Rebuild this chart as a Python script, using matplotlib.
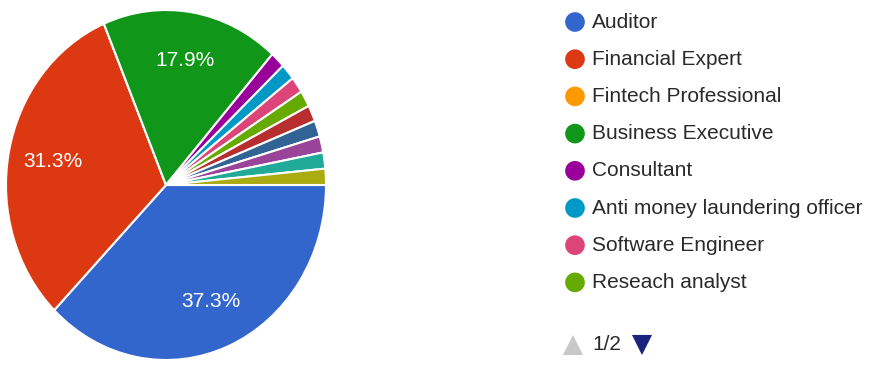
import matplotlib
matplotlib.use("Agg")
import matplotlib.pyplot as plt

plt.rcParams['font.family'] = ['Liberation Sans', 'DejaVu Sans']

# Survey responses by profession (page 1 of the legend lists the first eight)
categories = [
    "Auditor",
    "Financial Expert",
    "Fintech Professional",
    "Business Executive",
    "Consultant",
    "Anti money laundering officer",
    "Software Engineer",
    "Reseach analyst",
]
counts = [25, 21, 0, 12, 1, 1, 1, 1, 1, 1, 1, 1, 1]
colors = [
    "#3366cc", "#dc3912", "#ff9900", "#109618", "#990099", "#0099c6",
    "#dd4477", "#66aa00", "#b82e2e", "#316395", "#994499", "#22aa99",
    "#aaaa11",
]
page_label = "1/2"

W, H = 871, 365
fig = plt.figure(figsize=(W / 100, H / 100), dpi=100)

# Pie occupies a slightly tall ellipse on the left
cx, cy, rx, ry = 166, 185, 160, 175
ax = fig.add_axes([(cx - rx) / W, (H - cy - ry) / H, 2 * rx / W, 2 * ry / H])


def pct_label(p):
    return f"{p:.1f}%" if p >= 5 else ""


wedges, texts, autotexts = ax.pie(
    counts,
    colors=colors,
    startangle=0,
    counterclock=False,
    autopct=pct_label,
    pctdistance=0.72,
    wedgeprops=dict(edgecolor="white", linewidth=1.5),
    textprops=dict(color="white", fontsize=15),
)
ax.set_aspect("auto")
ax.set_xlim(-1, 1)
ax.set_ylim(-1, 1)
ax.axis("off")

# Legend column, laid out in pixel coordinates
lg = fig.add_axes([0, 0, 1, 1])
lg.set_xlim(0, W)
lg.set_ylim(H, 0)
lg.axis("off")
lg.patch.set_alpha(0)

row0, step = 22, 37.2
for i, name in enumerate(categories):
    y = row0 + i * step
    lg.scatter([575], [y], s=200, color=colors[i], edgecolor="none", zorder=3)
    lg.text(592, y, name, fontsize=15, color="#2a2a2a", va="center", ha="left")

# Pager controls
pager_y = 345
lg.scatter([573], [pager_y], marker="^", s=210, color="#c8c8c8", edgecolor="none")
lg.text(592, pager_y, page_label, fontsize=15, color="#2a2a2a", va="center", ha="left")
lg.scatter([642], [pager_y], marker="v", s=210, color="#1a237e", edgecolor="none")

fig.savefig("out.png", dpi=100)
